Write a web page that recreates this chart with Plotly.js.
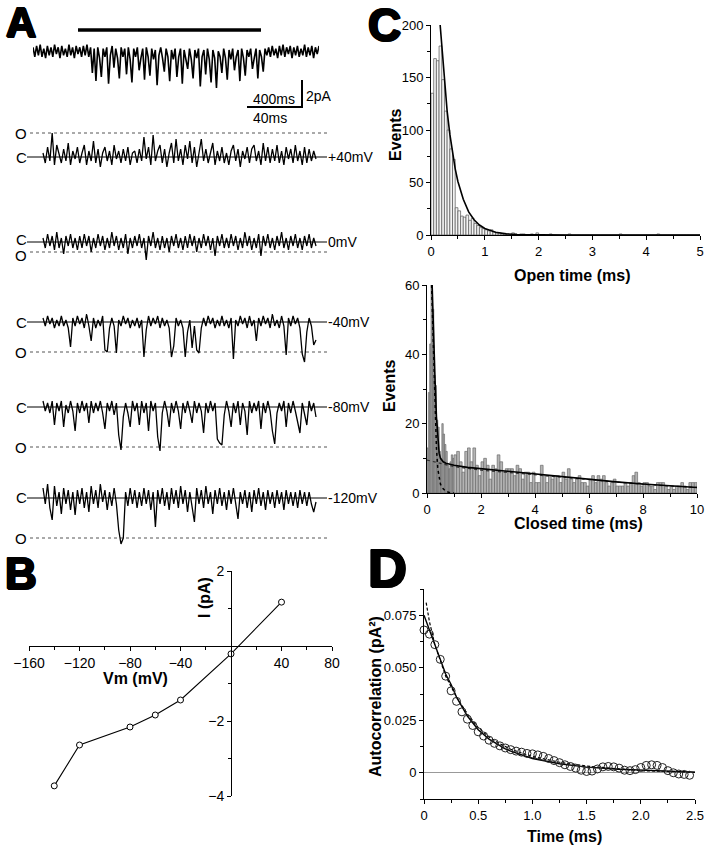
<!DOCTYPE html>
<html><head><meta charset="utf-8">
<script src="https://cdn.plot.ly/plotly-3.0.1.min.js"></script>
<style>html,body{margin:0;padding:0;background:#fff}#chart{width:709px;height:853px}</style>
</head><body><div id="chart"></div>
<script>
// ---------------- DATA ----------------
// Panel A: compressed record (pA)
const topCurrent = [0.3,-0.4,0.4,-0.3,0.5,-0.4,0.2,-0.5,0.4,-0.3,0.3,-0.4,0.5,-0.2,0.3,-0.5,0.4,-0.3,0.2,-0.4,0.5,-0.3,0.3,-0.5,0.4,-0.2,0.3,-0.4,0.4,-0.3,0.5,
-0.4,0.3,-1.6,0.2,-2.2,0.3,-0.5,-1.9,0.2,-0.4,0.3,-2.4,-0.3,0.4,-1.2,0.2,-0.5,-2.0,0.3,-0.4,
0.2,-1.7,0.3,-0.6,-2.3,0.2,-0.4,0.3,-1.4,-0.5,0.2,-2.1,0.3,-0.4,-1.8,0.2,-0.6,0.1,-2.5,-0.3,
0.3,-0.5,-1.5,0.2,-0.4,-2.2,0.1,-0.6,0.2,-1.9,-0.4,0.2,-2.4,0.1,-0.5,-1.3,0.2,-0.6,-2.0,0.1,
-0.5,0.2,-2.6,-0.4,0.1,-1.7,0.2,-0.6,-2.3,0.1,-0.5,-2.7,0.0,-0.4,-1.6,0.2,-0.5,-2.1,0.1,-0.6,
0.2,-1.4,-0.4,0.1,-2.2,0.2,-0.5,-1.8,0.1,-0.4,0.2,-1.3,-0.5,0.2,-2.0,0.1,-0.4,-1.5,0.2,-0.3,
0.3,-0.4,0.4,-0.3,0.2,-0.5,0.4,-0.3,0.5,-0.4,0.3,-0.2,0.4,-0.5,0.3,-0.3,0.4,-0.4,0.2,-0.3,0.5,-0.4,0.3,-0.3,0.4,-0.5,0.3,-0.2,0.4];

// Panel A: single-channel traces (pA relative to closed level)
const tracePlus40 = [0.2,-0.3,0.5,-0.2,1.2,-0.4,0.6,0.1,-0.3,0.4,-0.2,0.7,-0.4,0.3,-0.1,0.5,-0.3,0.2,0.6,-0.4,
0.3,-0.2,0.8,-0.3,0.4,-0.5,0.2,0.5,-0.2,0.3,-0.4,0.6,-0.1,0.3,-0.3,0.4,-0.2,0.5,-0.4,0.2,
0.3,-0.3,0.4,-0.2,1.0,-0.1,0.5,-0.4,1.1,-0.2,0.3,0.6,-0.3,0.4,-0.5,0.2,0.7,-0.3,0.9,-0.2,
0.4,-0.4,0.6,-0.1,0.8,-0.3,0.5,-0.5,0.3,0.9,-0.2,0.4,-0.3,0.2,0.7,-0.4,0.3,-0.2,0.5,-0.3,
0.2,-0.4,0.3,0.6,-0.2,0.4,-0.5,0.3,-0.1,0.5,-0.3,0.4,0.6,-0.2,0.3,-0.4,0.7,-0.2,0.5,-0.3,
0.4,-0.2,0.6,-0.3,0.3,-0.4,0.5,-0.1,0.4,-0.3,0.6,-0.2,0.3,-0.4,0.5,-0.3,0.4,-0.2,0.3,-0.1];
const trace0 = [0.2,-0.3,0.4,-0.2,0.3,-0.4,0.5,-0.3,0.2,-0.6,0.3,-0.2,0.4,-0.3,0.2,-0.4,0.3,-0.3,0.4,-0.2,
0.3,-0.5,0.2,-0.3,0.4,-0.2,0.3,-0.4,0.2,-0.3,0.5,-0.2,0.3,-0.4,0.2,-0.3,0.4,-0.6,0.2,-0.3,
0.3,-0.2,0.4,-0.3,0.2,-0.9,0.3,-0.2,0.5,-0.3,0.2,-0.4,0.3,-0.3,0.2,-0.5,0.3,-0.2,0.4,-0.3,
0.2,-0.4,0.3,-0.3,0.4,-0.2,0.3,-0.5,0.2,-0.3,0.4,-0.2,0.3,-0.4,0.2,-0.7,0.3,-0.2,0.4,-0.3,
0.2,-0.3,0.4,-0.2,0.3,-0.4,0.2,-0.3,0.5,-0.2,0.3,-0.4,0.2,-0.3,0.4,-0.7,0.3,-0.2,0.4,-0.3,
0.2,-0.4,0.3,-0.2,0.5,-0.3,0.2,-0.4,0.3,-0.2,0.4,-0.3,0.2,-0.4,0.3,-0.2,0.4,-0.3,0.2,-0.2];
const traceMinus40 = [0.2,-0.2,0.3,-0.1,0.2,-0.3,0.1,-0.2,0.3,-0.2,0.1,-0.3,-1.25,0.2,-0.2,0.3,-0.1,0.2,-0.3,0.4,-0.2,-0.95,
0.2,-0.3,0.1,-0.2,0.3,-1.4,-1.5,-0.3,0.2,-0.2,-1.55,0.1,-0.2,0.3,-0.1,0.2,-0.3,0.1,-0.2,0.2,-0.3,0.1,-1.75,-0.4,
0.3,-0.2,0.2,-0.1,0.3,-0.3,0.2,-0.2,0.1,-0.3,-1.75,-1.2,0.2,-0.2,0.1,-0.3,-1.75,-0.5,0.1,-1.3,-0.2,-1.4,-1.55,-0.3,
0.2,-0.2,0.3,-0.1,0.2,-0.3,0.1,-0.2,0.3,-0.2,0.1,-0.3,0.2,-1.85,0.1,-0.2,0.3,-0.1,0.2,-0.3,0.3,-0.2,0.1,-0.95,
0.2,-0.2,0.3,-0.1,0.2,-0.3,0.4,-0.2,0.1,-0.3,0.3,-0.2,-1.65,0.2,-0.2,0.3,-0.1,0.2,-0.3,-1.6,-2.0,-0.5,0.2,-0.2,-1.15,-0.9];
const traceMinus80 = [0.3,-0.2,0.2,-0.3,0.3,-0.9,0.2,-0.2,0.3,-1.0,0.1,-0.3,0.3,-0.2,-1.2,0.2,-0.3,0.3,-0.2,0.2,
-0.8,0.3,-0.3,0.2,-0.2,0.3,-0.3,-1.1,0.2,-0.2,0.3,-0.4,0.2,-1.4,-2.15,-0.5,0.2,-0.3,-1.0,0.3,
-0.2,0.2,-0.9,0.3,-0.3,0.2,-1.2,0.3,-0.2,0.2,-1.5,-2.2,-0.3,0.3,-0.2,-1.0,0.2,-0.3,0.3,-0.2,
-1.1,0.2,-0.3,0.3,-0.2,-0.8,0.3,-0.3,0.2,-0.2,-1.3,0.2,-0.3,0.3,-0.2,0.2,-1.6,-1.8,-1.9,-0.4,
0.3,-0.2,-1.0,0.2,-0.3,0.3,-0.9,0.2,-0.2,-1.4,0.3,-0.3,0.2,-0.2,0.3,-1.1,0.2,-0.3,0.3,-0.2,
-1.2,-1.85,-0.3,0.2,-0.2,0.3,-1.0,0.2,-0.3,0.3,-0.2,-0.8,-1.3,0.2,-0.3,-0.9,0.3,-0.2,0.2,-0.5];
const traceMinus120 = [0.5,-0.3,0.7,-0.5,-1.1,0.6,-0.4,0.3,-0.8,0.5,-0.3,0.4,-0.6,0.3,-0.85,0.4,-0.3,0.5,-0.5,0.3,
-0.7,0.6,-0.3,0.4,-0.5,0.7,-0.2,0.4,-0.6,0.3,-0.4,0.5,-0.3,-1.6,-2.3,-2.0,0.3,-0.4,0.5,-0.3,
0.4,-0.5,0.3,-0.4,0.5,-0.3,0.4,-0.6,0.3,-1.45,0.4,-0.3,0.5,-0.4,0.3,-0.6,0.5,-0.3,0.4,-0.5,
0.6,-0.3,0.4,-0.7,0.3,-0.4,-1.2,0.5,-0.3,0.4,-0.5,0.6,-0.3,0.3,-0.8,0.4,-0.3,0.5,-0.4,0.3,
-0.6,0.4,-0.3,0.5,-0.4,-1.05,0.3,-0.3,0.4,-0.5,0.3,-0.7,0.4,-0.3,0.5,-0.4,0.3,-0.6,0.4,-0.3,
0.3,-0.5,0.4,-0.3,0.3,-0.6,0.4,-0.3,0.3,-0.4,0.3,-0.5,0.4,-0.3,0.3,-0.4,0.3,-0.3,-0.7,-0.2];
const openLevels = [1.2, -0.5, -1.5, -2.0, -2.0];
const voltageLabels = ['+40mV', '0mV', '-40mV', '-80mV', '-120mV'];

// Panel B: I-V relation
const ivVoltage = [-140, -120, -80, -60, -40, 0, 40];
const ivCurrent = [-3.73, -2.64, -2.16, -1.84, -1.44, -0.21, 1.17];

// Panel C: open-time histogram (0.05 ms bins, 0-5 ms)
const openCounts = [135,168,166,180,148,118,100,82,72,26,23,18,17,19,14,16,11,9,7,6,
5,4,5,3,2,2,1,1,1,0,2,1,0,1,1,0,0,1,0,2,
0,0,0,0,1,0,0,0,0,0,0,1,0,0,0,0,0,0,0,0,
0,0,0,0,0,0,0,0,0,0,1,0,0,0,0,0,0,0,0,0,
0,0,0,0,1,0,0,0,0,0,0,0,0,0,0,0,0,0,0,0];
const openFitTime = [0.17,0.2,0.25,0.3,0.35,0.4,0.45,0.5,0.6,0.7,0.8,0.9,1.0,1.2,1.4,1.6,2.0,2.5,3,4,5];
const openFitEvents = [200,181,146,118,96,78,63,51,34,22,14.5,9.5,6.2,2.7,1.1,0.5,0.1,0,0,0,0];

// Panel C: closed-time histogram (0.05 ms bins to 1 ms, then 0.1 ms bins)
const closedCountsFine = [13,29,43,60,53,34,31,21,19,12,10,20,17,14,12,8,7,9,11,10];
const closedCountsCoarse = [11,12,9,6,12,13,9,13,8,5, 9,10,8,4,8,7,11,9,6,7, 7,7,5,8,7,4,6,6,3,6,
3,3,8,5,3,5,4,5,5,3, 6,4,7,4,3,4,5,3,3,2, 4,5,3,5,4,5,3,2,3,4,
2,2,2,3,2,3,5,6,3,2, 3,3,2,2,1,3,3,3,2,1, 2,1,2,2,3,2,1,3,3,3];
const closedFitTime = [0.19,0.25,0.3,0.35,0.4,0.45,0.5,0.6,0.7,0.8,1,1.5,2,3,4,5,6,7,8,9,10];
const closedFitEvents = [60,42,32,22,15,11.5,10,9.0,8.6,8.4,8.0,7.4,7.0,6.3,5.6,4.8,3.9,3.2,2.6,2.1,1.6];
const fastCompTime = [0.17,0.2,0.25,0.3,0.35,0.4,0.45,0.5,0.6,0.7,0.8,0.9,1.0];
const fastCompEvents = [60,52,34,22,13,7,4,2.5,1.2,0.5,0.2,0.05,0];
const slowCompTime = [0,1,2,3,4,5,6,7,8,9,10];
const slowCompEvents = [9.5,7.6,6.6,5.9,5.2,4.4,3.7,3.0,2.5,2.0,1.6];

// Panel D: autocorrelation
const acfTime = [0,0.05,0.1,0.15,0.2,0.25,0.3,0.35,0.4,0.45,0.5,0.55,0.6,0.65,0.7,0.75,0.8,0.85,0.9,0.95,
1.0,1.05,1.1,1.15,1.2,1.25,1.3,1.35,1.4,1.45,1.5,1.55,1.6,1.65,1.7,1.75,1.8,1.85,1.9,1.95,
2.0,2.05,2.1,2.15,2.2,2.25,2.3,2.35,2.4,2.45];
const acfValue = [0.068,0.066,0.061,0.054,0.046,0.039,0.034,0.029,0.0255,0.0225,0.0195,0.0175,0.0155,0.014,0.0128,0.0118,0.011,0.0103,0.0098,0.0092,
0.009,0.0085,0.0078,0.0068,0.0058,0.0048,0.0038,0.003,0.0022,0.0012,0.0006,0.0008,0.0018,0.0028,0.003,0.0028,0.0022,0.0012,0.001,0.0015,
0.0025,0.0035,0.0038,0.0035,0.0025,0.001,0.0,-0.0006,-0.0008,-0.0012];
const acfFitTime = [0,0.05,0.1,0.15,0.2,0.25,0.3,0.4,0.5,0.6,0.7,0.75,0.8,0.9,1.0,1.25,1.5,1.8,2.0,2.25,2.5];
const acfFitValue = [0.075,0.068,0.061,0.054,0.047,0.042,0.036,0.027,0.0205,0.016,0.0128,0.0114,0.0103,0.0085,0.0068,0.0043,0.0027,0.0017,0.0012,0.0007,0.0003];
const acfFit2Time = [0.02,0.05,0.1,0.15,0.2,0.3,0.4,0.5,0.6,0.7,0.8,0.9,1.0,1.25,1.5,1.8,2.0,2.5];
const acfFit2Value = [0.081,0.072,0.061,0.053,0.046,0.036,0.028,0.0215,0.017,0.0138,0.0112,0.0094,0.0078,0.005,0.0032,0.0018,0.001,0.0002];

// ---------------- LAYOUT HELPERS ----------------
const W = 709, H = 853;
const FONT = 'Liberation Sans, Arial, Helvetica, sans-serif';
const fx = p => p / W;
const fy = p => 1 - p / H;

const traces = [];
const shapes = [];
const ann = [];
const layout = {
  width: W, height: H, margin: {l:0, r:0, t:0, b:0},
  paper_bgcolor: '#fff', plot_bgcolor: 'rgba(0,0,0,0)',
  showlegend: false, bargap: 0,
  font: {family: FONT, color: '#000', size: 13}
};

function axisBase(extra) {
  return Object.assign({
    showline: true, linecolor: '#000', linewidth: 1,
    ticks: 'outside', ticklen: 4, tickwidth: 1, tickcolor: '#000',
    showgrid: false, zeroline: false, fixedrange: true,
    tickfont: {family: FONT, size: 13, color: '#000'}
  }, extra);
}
function minor(dtick) {
  return {tickmode: 'linear', tick0: 0, dtick: dtick, ticks: 'outside', ticklen: 3, tickwidth: 1, tickcolor: '#000', showgrid: false};
}
function bold(text, x, y, angle, size) {
  ann.push({text: text, x: fx(x), y: fy(y), xref: 'paper', yref: 'paper', showarrow: false,
    xanchor: 'center', yanchor: 'middle', textangle: angle || 0,
    font: {family: FONT, size: size || 16, weight: 'bold', color: '#000'}});
}
function panelLetter(t, x, y, size) {
  ann.push({text: t, x: fx(x), y: fy(y), xref: 'paper', yref: 'paper', showarrow: false,
    xanchor: 'center', yanchor: 'middle',
    font: {family: FONT, size: size, weight: 900, color: '#000',
      shadow: '1px 0 0 #000, -1px 0 0 #000, 0 1px 0 #000, 0 -1px 0 #000, 1px 1px 0 #000, -1px -1px 0 #000'}});
}

// ---------------- PANEL A ----------------
// compressed record
layout.xaxis5 = {domain: [fx(33), fx(319)], range: [0, topCurrent.length - 1], visible: false, anchor: 'y5', fixedrange: true};
layout.yaxis5 = {domain: [fy(100), fy(40)], range: [-3.6, 0.84], visible: false, anchor: 'x5', fixedrange: true};
traces.push({type: 'scatter', mode: 'lines', x: topCurrent.map((v, i) => i), y: topCurrent,
  xaxis: 'x5', yaxis: 'y5', line: {color: '#000', width: 1.6}, hoverinfo: 'skip'});
// stimulus bar
shapes.push({type: 'line', xref: 'paper', yref: 'paper', x0: fx(78), x1: fx(261), y0: fy(30), y1: fy(30), line: {color: '#000', width: 3.5}});
// scale bars
shapes.push({type: 'line', xref: 'paper', yref: 'paper', x0: fx(302), x1: fx(302), y0: fy(80), y1: fy(107.5), line: {color: '#000', width: 2}});
shapes.push({type: 'line', xref: 'paper', yref: 'paper', x0: fx(247), x1: fx(303), y0: fy(107), y1: fy(107), line: {color: '#000', width: 2}});
ann.push({text: '400ms', x: fx(274), y: fy(99), xref: 'paper', yref: 'paper', showarrow: false, xanchor: 'center', yanchor: 'middle', font: {family: FONT, size: 14}});
ann.push({text: '2pA', x: fx(304), y: fy(96), xref: 'paper', yref: 'paper', showarrow: false, xanchor: 'left', yanchor: 'middle', font: {family: FONT, size: 14}});
ann.push({text: '40ms', x: fx(270), y: fy(118), xref: 'paper', yref: 'paper', showarrow: false, xanchor: 'center', yanchor: 'middle', font: {family: FONT, size: 14}});

const chanData = [tracePlus40, trace0, traceMinus40, traceMinus80, traceMinus120];
const chanClosedPx = [157, 242, 322, 407, 498];
const pxPerPA = 20;
chanData.forEach((arr, k) => {
  const n = 6 + k;
  const c = chanClosedPx[k];
  const step = 273 / (arr.length - 1);
  layout['xaxis' + n] = {domain: [fx(27), fx(327)], range: [(27 - 43) / step, (327 - 43) / step], visible: false, anchor: 'y' + n, fixedrange: true};
  layout['yaxis' + n] = {domain: [fy(c + 50), fy(c - 30)], range: [-50 / pxPerPA, 30 / pxPerPA], visible: false, anchor: 'x' + n, fixedrange: true};
  shapes.push({type: 'line', xref: 'x' + n + ' domain', yref: 'y' + n, x0: 0, x1: 1, y0: 0, y1: 0, layer: 'below', line: {color: '#000', width: 1}});
  shapes.push({type: 'line', xref: 'x' + n + ' domain', yref: 'y' + n, x0: 0.01, x1: 1, y0: openLevels[k], y1: openLevels[k], layer: 'below', line: {color: '#555', width: 1, dash: 'dot'}});
  traces.push({type: 'scatter', mode: 'lines', x: arr.map((v, i) => i), y: arr,
    xaxis: 'x' + n, yaxis: 'y' + n, line: {color: '#000', width: 1.3}, hoverinfo: 'skip'});
  const gap = Math.abs(openLevels[k]) * pxPerPA;
  const sep = gap < 16 ? (16 - gap) / 2 : 0;
  const up = openLevels[k] > 0 ? 1 : -1;
  ann.push({text: 'C', x: fx(21), y: 0, xref: 'paper', yref: 'y' + n, showarrow: false, xanchor: 'center', yanchor: 'middle', yshift: -up * sep, font: {family: FONT, size: 15}});
  ann.push({text: 'O', x: fx(21), y: openLevels[k], xref: 'paper', yref: 'y' + n, showarrow: false, xanchor: 'center', yanchor: 'middle', yshift: up * sep, font: {family: FONT, size: 15}});
  ann.push({text: voltageLabels[k], x: fx(326), y: 0, xref: 'paper', yref: 'y' + n, showarrow: false, xanchor: 'left', yanchor: 'middle', font: {family: FONT, size: 14}});
});

// ---------------- PANEL B ----------------
layout.xaxis = axisBase({domain: [fx(29), fx(332)], range: [-160, 80], anchor: 'free', position: fy(646),
  tickmode: 'array', tickvals: [-160, -120, -80, -40, 40, 80], minor: minor(20), tickfont: {family: FONT, size: 14}});
layout.yaxis = axisBase({domain: [fy(796), fy(571)], range: [-4, 2], anchor: 'free', position: fx(231),
  tickmode: 'array', tickvals: [-4, -2, 2], minor: minor(1), tickfont: {family: FONT, size: 14}});
traces.push({type: 'scatter', mode: 'lines+markers', x: ivVoltage, y: ivCurrent, xaxis: 'x', yaxis: 'y',
  line: {color: '#000', width: 1.1}, marker: {symbol: 'circle', size: 6, color: '#fff', line: {color: '#000', width: 1}}, cliponaxis: false});
bold('Vm (mV)', 135, 678);
bold('I (pA)', 204, 598, -90);

// ---------------- PANEL C (open) ----------------
layout.xaxis2 = axisBase({domain: [fx(431), fx(700)], range: [0, 5], anchor: 'y2', dtick: 1, tick0: 0, minor: minor(0.5)});
layout.yaxis2 = axisBase({domain: [fy(235), fy(25)], range: [0, 200], anchor: 'x2', dtick: 50, tick0: 0, minor: minor(25)});
const openBin = 0.05;
traces.push({type: 'bar', x: openCounts.map((v, i) => (i + 0.5) * openBin), y: openCounts, width: openCounts.map(() => openBin),
  xaxis: 'x2', yaxis: 'y2', marker: {color: '#f4f4f4', line: {color: '#555', width: 0.7}}, hoverinfo: 'skip'});
traces.push({type: 'scatter', mode: 'lines', x: openFitTime, y: openFitEvents, xaxis: 'x2', yaxis: 'y2',
  line: {color: '#000', width: 1.6}, hoverinfo: 'skip'});
bold('Events', 395, 135, -90);
bold('Open time (ms)', 572, 275);

// ---------------- PANEL C (closed) ----------------
layout.xaxis3 = axisBase({domain: [fx(427), fx(697)], range: [0, 10], anchor: 'y3', dtick: 2, tick0: 0, minor: minor(1)});
layout.yaxis3 = axisBase({domain: [fy(493), fy(285)], range: [0, 60], anchor: 'x3', dtick: 20, tick0: 0, minor: minor(10)});
const fineBin = 0.05, coarseBin = 0.1;
const closedX = closedCountsFine.map((v, i) => (i + 0.5) * fineBin)
  .concat(closedCountsCoarse.map((v, i) => 1 + (i + 0.5) * coarseBin));
const closedW = closedCountsFine.map(() => fineBin).concat(closedCountsCoarse.map(() => coarseBin));
traces.push({type: 'bar', x: closedX, y: closedCountsFine.concat(closedCountsCoarse), width: closedW,
  xaxis: 'x3', yaxis: 'y3', marker: {color: '#b4b4b4', line: {color: '#6a6a6a', width: 0.7}}, hoverinfo: 'skip'});
traces.push({type: 'scatter', mode: 'lines', x: slowCompTime, y: slowCompEvents, xaxis: 'x3', yaxis: 'y3',
  line: {color: '#333', width: 1.2, dash: 'dot'}, hoverinfo: 'skip'});
traces.push({type: 'scatter', mode: 'lines', x: fastCompTime, y: fastCompEvents, xaxis: 'x3', yaxis: 'y3',
  line: {color: '#000', width: 1.5, dash: 'dot'}, hoverinfo: 'skip'});
traces.push({type: 'scatter', mode: 'lines', x: closedFitTime, y: closedFitEvents, xaxis: 'x3', yaxis: 'y3',
  line: {color: '#000', width: 1.6}, hoverinfo: 'skip'});
bold('Events', 390, 386, -90);
bold('Closed time (ms)', 578, 523);

// ---------------- PANEL D ----------------
layout.xaxis4 = axisBase({domain: [fx(424), fx(695)], range: [0, 2.5], anchor: 'y4',
  tickmode: 'array', tickvals: [0, 0.5, 1, 1.5, 2, 2.5], ticktext: ['0', '0.5', '1.0', '1.5', '2.0', '2.5'], minor: minor(0.25)});
layout.yaxis4 = axisBase({domain: [fy(799), fy(589)], range: [-0.0125, 0.0875], anchor: 'x4',
  tickmode: 'array', tickvals: [0, 0.025, 0.05, 0.075], ticktext: ['0', '0.025', '0.050', '0.075'], minor: minor(0.0125),
  zeroline: true, zerolinecolor: '#999', zerolinewidth: 1});
traces.push({type: 'scatter', mode: 'lines', x: acfFit2Time, y: acfFit2Value, xaxis: 'x4', yaxis: 'y4',
  line: {color: '#000', width: 1.2, dash: '3px,2px'}, hoverinfo: 'skip', cliponaxis: false});
traces.push({type: 'scatter', mode: 'lines', x: acfFitTime, y: acfFitValue, xaxis: 'x4', yaxis: 'y4',
  line: {color: '#000', width: 1.4}, hoverinfo: 'skip'});
traces.push({type: 'scatter', mode: 'markers', x: acfTime, y: acfValue, xaxis: 'x4', yaxis: 'y4',
  marker: {symbol: 'circle-open', size: 8, color: '#222', line: {width: 1}}, hoverinfo: 'skip', cliponaxis: false});
bold('Autocorrelation (pA²)', 375, 696, -90);
bold('Time (ms)', 564, 836);

// panel letters
panelLetter('A', 21, 23, 42);
panelLetter('B', 21, 573, 44);
panelLetter('C', 384, 25, 46);
panelLetter('D', 387, 568, 54);

layout.shapes = shapes;
layout.annotations = ann;
Plotly.newPlot('chart', traces, layout, {staticPlot: true, displayModeBar: false});
</script></body></html>
